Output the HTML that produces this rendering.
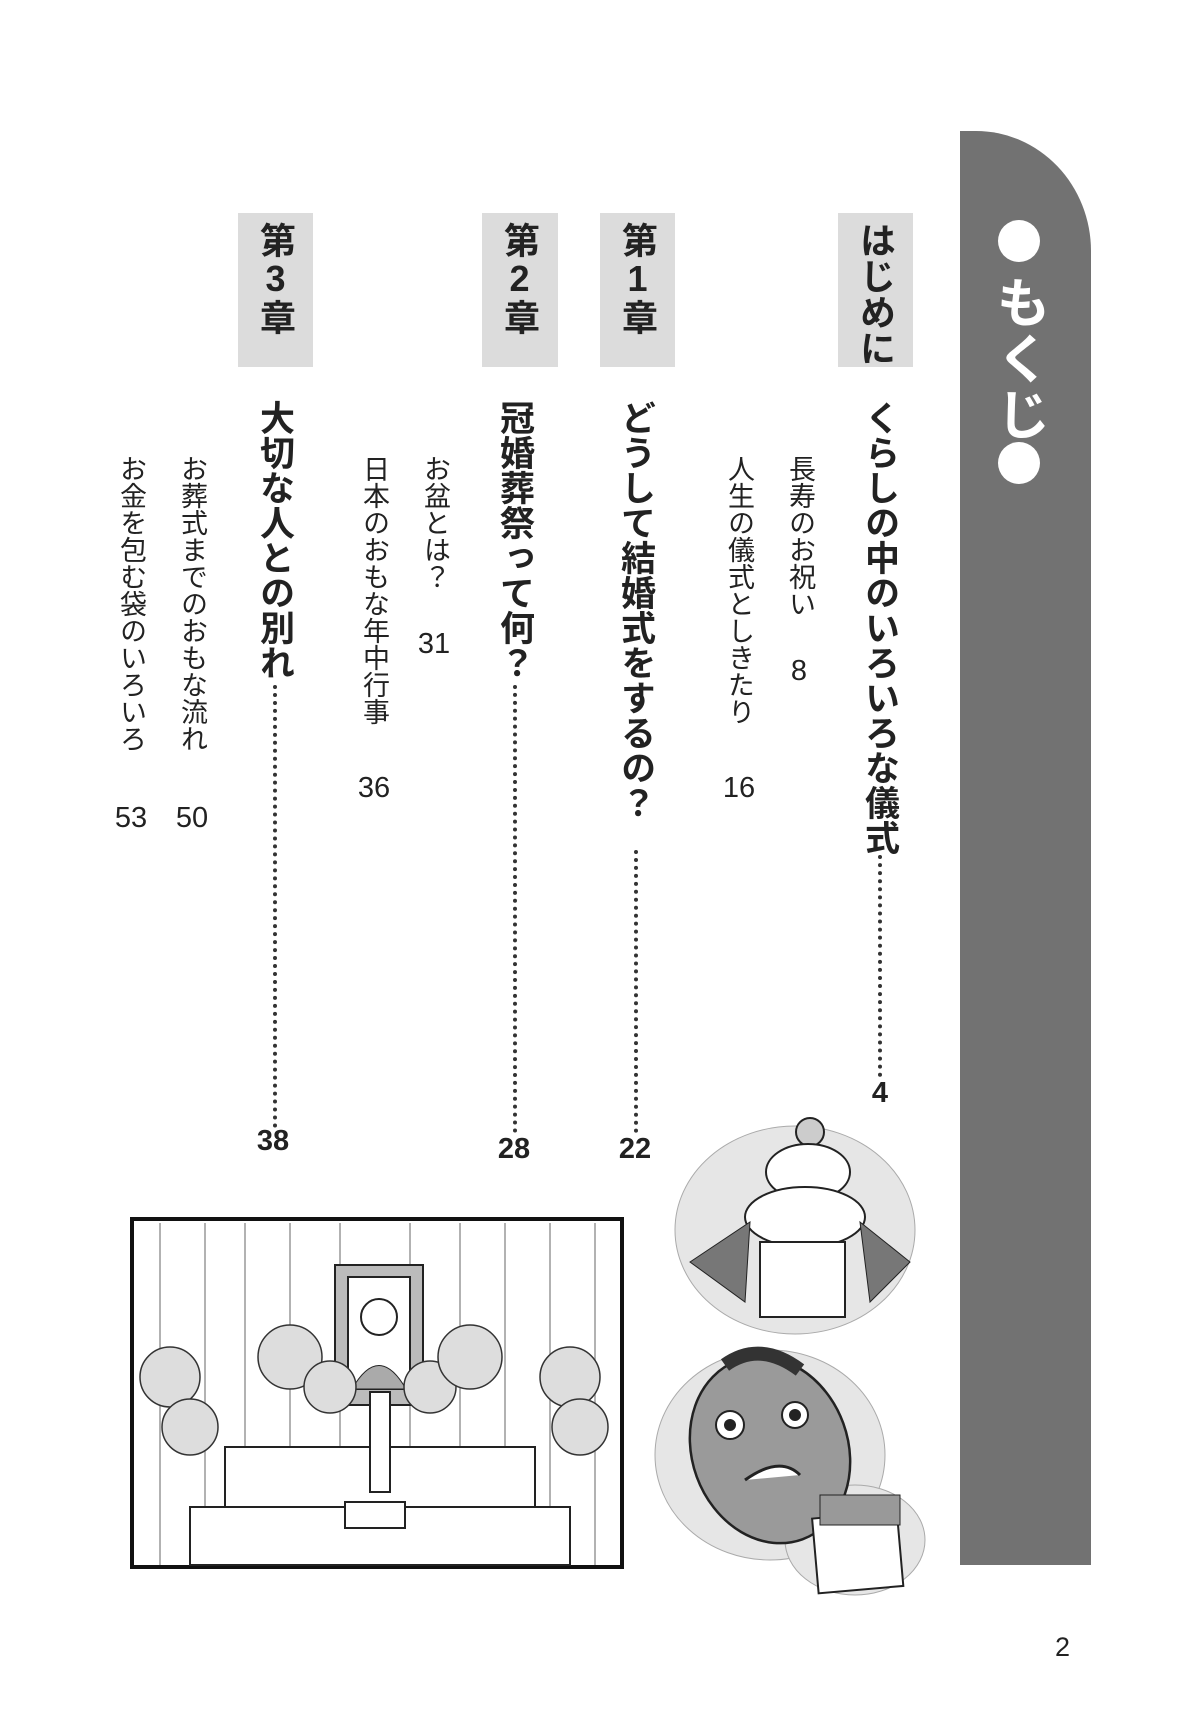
<!DOCTYPE html>
<html><head><meta charset="utf-8"><style>
body{margin:0;width:1200px;height:1727px;background:#fff;position:relative;overflow:hidden;font-family:"Liberation Sans","Noto Sans CJK JP",sans-serif;color:#222}
.v{position:absolute;writing-mode:vertical-rl;text-orientation:upright;white-space:nowrap;line-height:1}
.tab{position:absolute;left:960px;top:131px;width:131px;height:1448px;background:#727272;border-top-right-radius:115px 120px}
.box{position:absolute;top:213px;height:154px;background:#dcdcdc}
.h{font-weight:bold;font-size:35px}
.s{font-size:27px}
.dot{position:absolute;width:0;border-left:4px dotted #333}
.n{position:absolute;font-size:29px;transform:translateX(-50%)}
.c{position:absolute;width:42px;height:42px;border-radius:50%;background:#fff}
</style></head><body>
<div class="tab" style="height:1434px"></div>
<div class="c" style="left:998px;top:220px"></div>
<div class="v" style="left:991px;top:275px;font-size:54px;font-weight:bold;color:#fff;letter-spacing:2px">もくじ</div>
<div class="c" style="left:998px;top:442px"></div>

<div class="box" style="left:838px;width:75px"></div>
<div class="v" style="left:857px;top:222px;font-size:36px;font-weight:bold">はじめに</div>
<div class="box" style="left:600px;width:75px"></div>
<div class="v" style="left:619px;top:222px;font-size:36px;font-weight:bold">第1章</div>
<div class="box" style="left:482px;width:76px"></div>
<div class="v" style="left:501px;top:222px;font-size:36px;font-weight:bold">第2章</div>
<div class="box" style="left:238px;width:75px"></div>
<div class="v" style="left:257px;top:222px;font-size:36px;font-weight:bold">第3章</div>

<!-- はじめに -->
<div class="v h" style="left:862px;top:400px">くらしの中のいろいろな儀式</div>
<div class="dot" style="left:878px;top:855px;height:222px"></div>
<div class="n" style="left:880px;top:1077px;font-weight:bold">4</div>
<div class="v s" style="left:786px;top:455px">長寿のお祝い</div>
<div class="n" style="left:799px;top:655px">8</div>
<div class="v s" style="left:725px;top:455px">人生の儀式としきたり</div>
<div class="n" style="left:739px;top:772px">16</div>

<!-- 第1章 -->
<div class="v h" style="left:618px;top:400px">どうして結婚式をするの？</div>
<div class="dot" style="left:634px;top:850px;height:283px"></div>
<div class="n" style="left:635px;top:1133px;font-weight:bold">22</div>

<!-- 第2章 -->
<div class="v h" style="left:497px;top:400px">冠婚葬祭って何？</div>
<div class="dot" style="left:513px;top:685px;height:448px"></div>
<div class="n" style="left:514px;top:1133px;font-weight:bold">28</div>
<div class="v s" style="left:421px;top:455px">お盆とは？</div>
<div class="n" style="left:434px;top:628px">31</div>
<div class="v s" style="left:360px;top:455px">日本のおもな年中行事</div>
<div class="n" style="left:374px;top:772px">36</div>

<!-- 第3章 -->
<div class="v h" style="left:257px;top:400px">大切な人との別れ</div>
<div class="dot" style="left:273px;top:685px;height:443px"></div>
<div class="n" style="left:273px;top:1125px;font-weight:bold">38</div>
<div class="v s" style="left:178px;top:455px">お葬式までのおもな流れ</div>
<div class="n" style="left:192px;top:802px">50</div>
<div class="v s" style="left:117px;top:455px">お金を包む袋のいろいろ</div>
<div class="n" style="left:131px;top:802px">53</div>

<!-- funeral illustration -->
<svg style="position:absolute;left:130px;top:1217px" width="496" height="354" viewBox="0 0 496 354">
<rect x="2" y="2" width="490" height="348" fill="#fff" stroke="#111" stroke-width="4"/>
<g stroke="#999" stroke-width="1.5">
<line x1="30" y1="6" x2="30" y2="348"/><line x1="75" y1="6" x2="75" y2="348"/><line x1="115" y1="6" x2="115" y2="348"/><line x1="160" y1="6" x2="160" y2="348"/><line x1="210" y1="6" x2="210" y2="348"/><line x1="280" y1="6" x2="280" y2="348"/><line x1="330" y1="6" x2="330" y2="348"/><line x1="375" y1="6" x2="375" y2="348"/><line x1="420" y1="6" x2="420" y2="348"/><line x1="465" y1="6" x2="465" y2="348"/>
</g>
<rect x="205" y="48" width="88" height="140" fill="#bbb" stroke="#222" stroke-width="2"/>
<rect x="218" y="60" width="62" height="112" fill="#fff" stroke="#222" stroke-width="2"/>
<circle cx="249" cy="100" r="18" fill="#fff" stroke="#222" stroke-width="2"/>
<path d="M222 172 Q249 125 276 172Z" fill="#aaa" stroke="#222"/>
<g fill="#ddd" stroke="#333" stroke-width="1.5">
<circle cx="40" cy="160" r="30"/><circle cx="60" cy="210" r="28"/><circle cx="160" cy="140" r="32"/><circle cx="200" cy="170" r="26"/><circle cx="300" cy="170" r="26"/><circle cx="340" cy="140" r="32"/><circle cx="440" cy="160" r="30"/><circle cx="450" cy="210" r="28"/>
<circle cx="150" cy="260" r="30"/><circle cx="345" cy="260" r="30"/>
</g>
<rect x="95" y="230" width="310" height="60" fill="#fff" stroke="#222" stroke-width="2"/>
<rect x="60" y="290" width="380" height="58" fill="#fff" stroke="#222" stroke-width="2"/>
<rect x="240" y="175" width="20" height="100" fill="#fff" stroke="#222" stroke-width="2"/>
<rect x="215" y="285" width="60" height="26" fill="#fff" stroke="#222" stroke-width="2"/>
</svg>

<!-- kagami mochi -->
<svg style="position:absolute;left:670px;top:1112px" width="255" height="225" viewBox="0 0 255 225">
<ellipse cx="125" cy="118" rx="120" ry="104" fill="#e6e6e6" stroke="#aaa"/>
<circle cx="140" cy="20" r="14" fill="#ccc" stroke="#222" stroke-width="2"/>
<ellipse cx="138" cy="60" rx="42" ry="28" fill="#fff" stroke="#222" stroke-width="2"/>
<ellipse cx="135" cy="105" rx="60" ry="30" fill="#fff" stroke="#222" stroke-width="2"/>
<rect x="90" y="130" width="85" height="75" fill="#fff" stroke="#222" stroke-width="2"/>
<path d="M20 150 L80 110 L75 190Z M190 110 L240 150 L200 190Z" fill="#777" stroke="#222"/>
</svg>

<!-- oni -->
<svg style="position:absolute;left:650px;top:1345px" width="280" height="255" viewBox="0 0 280 255">
<ellipse cx="120" cy="110" rx="115" ry="105" fill="#e6e6e6" stroke="#aaa"/>
<ellipse cx="205" cy="195" rx="70" ry="55" fill="#e6e6e6" stroke="#aaa"/>
<ellipse cx="120" cy="105" rx="78" ry="95" fill="#9a9a9a" stroke="#222" stroke-width="2.5" transform="rotate(-20 120 105)"/>
<path d="M75 20 Q110 -5 150 25" stroke="#333" stroke-width="14" fill="none"/>
<circle cx="80" cy="80" r="14" fill="#fff" stroke="#222" stroke-width="2"/><circle cx="80" cy="80" r="6" fill="#222"/>
<circle cx="145" cy="70" r="13" fill="#fff" stroke="#222" stroke-width="2"/><circle cx="145" cy="70" r="6" fill="#222"/>
<path d="M95 135 Q130 110 150 130" stroke="#222" stroke-width="3" fill="#fff"/>
<rect x="165" y="170" width="85" height="75" fill="#fff" stroke="#222" stroke-width="2" transform="rotate(-5 205 205)"/>
<rect x="170" y="150" width="80" height="30" fill="#999" stroke="#222"/>
</svg>

<div style="position:absolute;left:1055px;top:1632px;font-size:27px">2</div>
</body></html>
